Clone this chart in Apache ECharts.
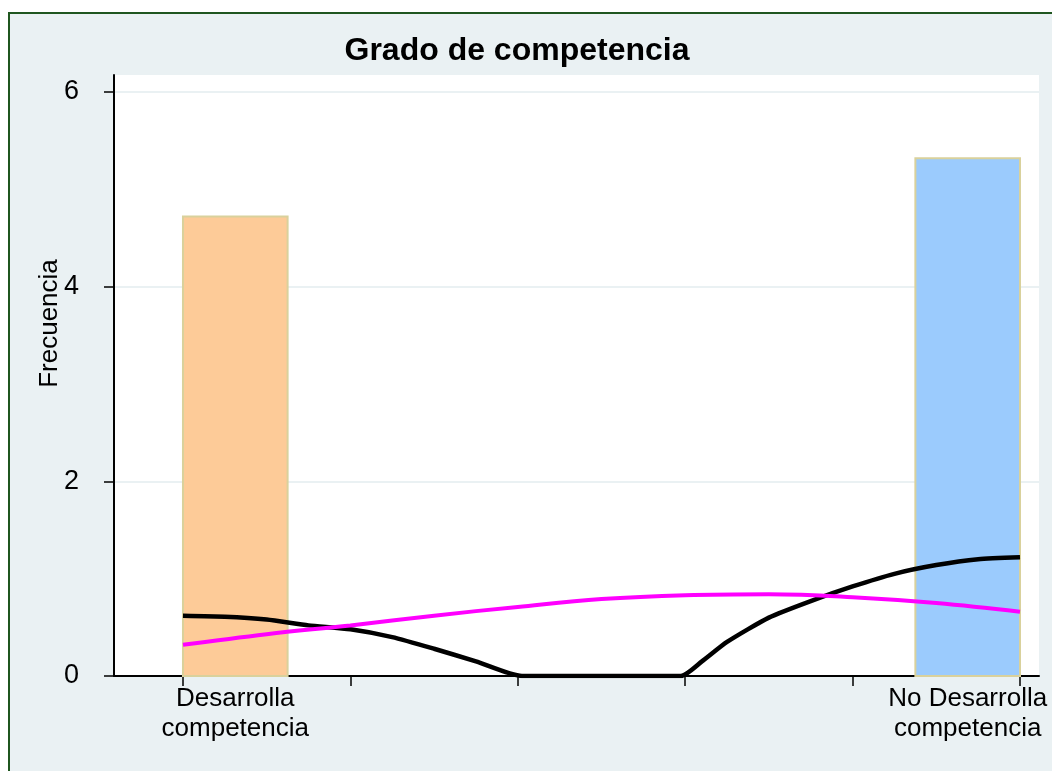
<!DOCTYPE html>
<html>
<head>
<meta charset="utf-8">
<script src="https://cdn.jsdelivr.net/npm/echarts@6/dist/echarts.min.js"></script>
<style>
  html, body { margin: 0; padding: 0; background: #fff; overflow: hidden; }
  #frame { position: absolute; left: 8px; top: 12px; width: 1100px; height: 800px;
           background: #eaf1f3; border: 2px solid #1f561f; }
  #chart { position: absolute; left: 0; top: 0; width: 1052px; height: 771px; }
</style>
</head>
<body>
<div id="frame"></div>
<div id="chart"></div>
<script>
// categorias y posiciones de etiqueta (centro de cada barra)
var categories = ['Desarrolla\ncompetencia', 'No Desarrolla\ncompetencia'];
var labelPos = [1.0625, 1.9375];

// barras del histograma
var binStart = [1.0, 1.875];
var binEnd = [1.125, 2.0];
var barHeights = [4.72, 5.32];
var barColors = ['#fdcb98', '#9bcbfd'];

// ticks
var xTicks = [1, 1.2, 1.4, 1.6, 1.8, 2];
var yTicks = [0, 2, 4, 6];

// densidad kernel (linea negra)
var kernelX = [1.0, 1.05, 1.10, 1.15, 1.20, 1.25, 1.30, 1.35, 1.405, 1.595, 1.62, 1.65, 1.70, 1.75, 1.80, 1.85, 1.90, 1.95, 2.0];
var kernelY = [0.62, 0.61, 0.58, 0.52, 0.48, 0.40, 0.28, 0.15, 0.0, 0.0, 0.15, 0.35, 0.60, 0.77, 0.92, 1.05, 1.14, 1.20, 1.22];

// densidad normal (linea magenta)
var normalX = [1.0, 1.1, 1.2, 1.3, 1.4, 1.5, 1.6, 1.7, 1.8, 1.9, 2.0];
var normalY = [0.32, 0.43, 0.52, 0.62, 0.71, 0.79, 0.83, 0.84, 0.81, 0.75, 0.66];

var font = 'Liberation Sans, Arial, sans-serif';

var myChart = echarts.init(document.getElementById('chart'));

var bars = [];
for (var i = 0; i < binStart.length; i++) {
    bars.push([binStart[i], binEnd[i], barHeights[i]]);
}
var kernel = kernelX.map(function (x, i) { return [x, kernelY[i]]; });
var normal = normalX.map(function (x, i) { return [x, normalY[i]]; });

myChart.setOption({
    animation: false,
    title: {
        text: 'Grado de competencia',
        left: 512,
        top: 30,
        textAlign: 'center',
        textStyle: { fontFamily: font, fontSize: 32, fontWeight: 'bold', color: '#000' }
    },
    grid: {
        left: 114, top: 75, width: 925, height: 601,
        show: true, backgroundColor: '#fff', borderWidth: 0
    },
    xAxis: {
        type: 'value',
        min: 0.9176,
        max: 2.0227,
        axisLine: { show: true, onZero: false, lineStyle: { color: '#000', width: 2 } },
        axisTick: { show: true, length: 10, customValues: xTicks, lineStyle: { color: '#000', width: 1.5 } },
        splitLine: { show: false },
        axisLabel: {
            customValues: labelPos,
            margin: 8,
            fontFamily: font, fontSize: 26, lineHeight: 30, color: '#000',
            formatter: function (v) {
                for (var k = 0; k < labelPos.length; k++) {
                    if (Math.abs(v - labelPos[k]) < 1e-6) return categories[k];
                }
                return '';
            }
        }
    },
    yAxis: {
        type: 'value',
        min: 0,
        max: 6.175,
        name: 'Frecuencia',
        nameLocation: 'middle',
        nameGap: 51,
        nameMoveOverlap: false,
        nameTextStyle: { fontFamily: font, fontSize: 26, color: '#000', padding: [0, 0, 0, 104] },
        axisLine: { show: true, lineStyle: { color: '#000', width: 2 } },
        axisTick: { show: true, length: 10, customValues: yTicks, lineStyle: { color: '#000', width: 1.5 } },
        splitLine: { show: true, lineStyle: { color: '#eaf1f3', width: 2 } },
        axisLabel: {
            customValues: yTicks,
            margin: 35,
            fontFamily: font, fontSize: 27, color: '#000'
        }
    },
    series: [
        {
            type: 'custom',
            z: 1,
            data: bars,
            encode: { x: [0, 1], y: 2 },
            renderItem: function (params, api) {
                var p0 = api.coord([api.value(0), api.value(2)]);
                var p1 = api.coord([api.value(1), 0]);
                return {
                    type: 'rect',
                    shape: { x: p0[0], y: p0[1], width: p1[0] - p0[0], height: p1[1] - p0[1] },
                    style: { fill: barColors[params.dataIndex], stroke: '#d9d19c', lineWidth: 2 }
                };
            }
        },
        {
            type: 'line',
            z: 3,
            data: kernel,
            smooth: 0.2,
            symbol: 'none',
            lineStyle: { color: '#000', width: 4.5 }
        },
        {
            type: 'line',
            z: 4,
            data: normal,
            smooth: 0.4,
            symbol: 'none',
            lineStyle: { color: '#ff00ff', width: 4 }
        }
    ]
});
</script>
</body>
</html>
